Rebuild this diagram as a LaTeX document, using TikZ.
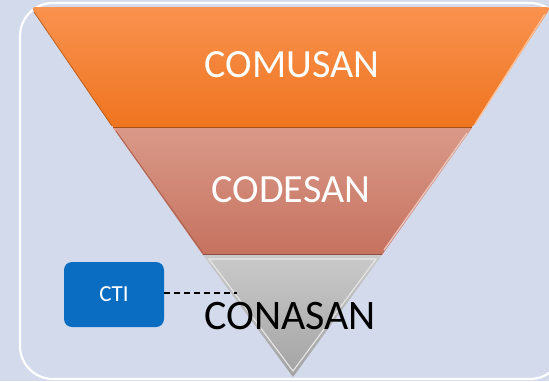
\documentclass[tikz,border=0pt]{standalone}
\usepackage{fontspec}
\setmainfont{Carlito}
\definecolor{bgc}{HTML}{D3DAEC}
\definecolor{orgT}{HTML}{F9924F}
\definecolor{orgB}{HTML}{EF741F}
\definecolor{salT}{HTML}{DA9988}
\definecolor{salB}{HTML}{C6725F}
\definecolor{gryT}{HTML}{CACACA}
\definecolor{gryB}{HTML}{A3A3A3}
\definecolor{ctiblue}{HTML}{0A6DC2}
\tikzset{
  bandtext/.style={text=white, font=\fontsize{40}{48}\selectfont, inner sep=0pt},
  ctibox/.style={fill=ctiblue, rounded corners=8pt, minimum width=100pt, minimum height=65pt, inner sep=0pt, text=white, font=\fontsize{23}{27}\selectfont},
  link/.style={draw=black, line width=2.2pt, dash pattern=on 6pt off 4pt},
}
\begin{document}
\begin{tikzpicture}[x=1pt,y=-1pt]
\useasboundingbox (0,0) rectangle (549,381);
\fill[bgc] (0,0) rectangle (549,381);
\begin{scope}
\clip (0,0) rectangle (549,381);
\draw[white, line width=2.2pt, rounded corners=33pt] (20,3) rectangle (563,379);
\end{scope}
% top band
\shade[top color=orgT, bottom color=orgB, rounded corners=4pt] (113,128) -- (31,7) -- (551,7) -- (472,128) -- cycle;
\draw[orgT!60!white, line width=1.4pt] (545,14) -- (475,124);
\draw[orgB!80!black, line width=0.8pt] (34,12) -- (112,126);
\draw[orgB!70!black, line width=1pt] (113,127.5) -- (472,127.5);
% middle band
\shade[top color=salT, bottom color=salB] (113,128) -- (472,128) -- (382,255) -- (203,255) -- cycle;
\draw[salT!55!white, line width=1.3pt] (467,133) -- (384,250);
\draw[salB!85!black, line width=0.8pt] (116,131) -- (203,253);
\draw[salB!70!black, line width=0.9pt] (203,254.5) -- (382,254.5);
% bottom band
\shade[top color=gryT, bottom color=gryB] (203,255) -- (382,255) -- (293,377) -- cycle;
\draw[white!55!gryT, line width=1.1pt] (209,259) -- (376,259) -- (293,371) -- cycle;
% texts
\node[bandtext] (comusan) at (292,65) {COMUSAN};
\node[bandtext] (codesan) at (291,190) {CODESAN};
\node[inner sep=0pt, font=\fontsize{42}{50}\selectfont, text=black] (conasan) at (290,316) {CONASAN};
\node[ctibox] (cti) at (114,294.5) {CTI};
\coordinate (linkend) at (237,293);
\draw[link] (cti.east |- linkend) -- (linkend);
\end{tikzpicture}
\end{document}
